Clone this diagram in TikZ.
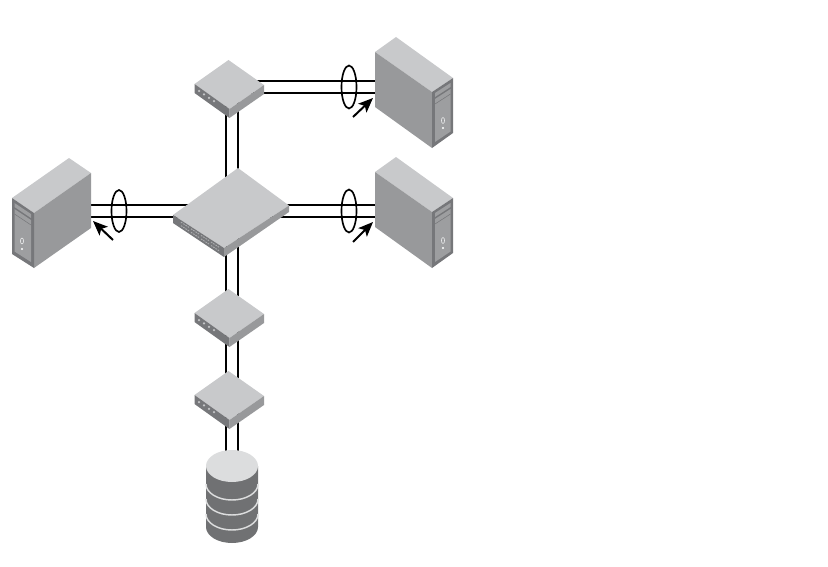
\documentclass[tikz,border=0pt]{standalone}
\usetikzlibrary{arrows.meta}
\definecolor{topc}{HTML}{C8C9CB}
\definecolor{sidec}{HTML}{98999B}
\definecolor{framec}{HTML}{76777A}
\definecolor{panelc}{HTML}{9D9EA0}
\definecolor{dotc}{HTML}{C4C5C7}
\definecolor{portc}{HTML}{ABACAE}
\definecolor{cyltop}{HTML}{DCDDDE}
\definecolor{cylbody}{HTML}{707173}
\tikzset{
  px/.style={x=0.75pt,y=-0.75pt},
  facet/.style={draw=none,line join=round},
  link/.style={draw=black,line width=1.25pt},
  tag/.style={draw=black,line width=1.25pt,fill=none},
  pointer/.style={draw=black,line width=1.5pt,-{Stealth[length=11pt,width=9pt,inset=2.5pt]}},
}
% server tower, right-facing front
\newcommand{\towerR}[3]{%
\begin{scope}[shift={(#2,#3)}]
  \fill[facet,topc] (396,157)--(453,198)--(432,212)--(375,172)--cycle;
  \fill[facet,sidec] (375,172)--(432,212)--(432,268)--(375,227)--cycle;
  \fill[facet,framec] (432,212)--(453,198)--(453,253)--(432,268)--cycle;
  \fill[facet,panelc] (435,213)--(450.5,203)--(450.5,207)--(435,217)--cycle;
  \fill[facet,panelc] (435,219)--(450.5,209)--(450.5,251.5)--(435,262)--cycle;
  \draw[framec,line width=0.4pt] (435,224)--(450.5,214);
  \draw[dotc!40!white,line width=0.45pt] (443,240.5) ellipse (1.6 and 3);
  \fill[white] (443,248) circle (1.1);
  \coordinate (#1) at (375,200);
\end{scope}}
% server tower, left-facing front
\newcommand{\towerL}[1]{%
  \fill[facet,topc] (69,158)--(91,173)--(34,213)--(12,198)--cycle;
  \fill[facet,sidec] (91,173)--(91,228)--(34,268)--(34,213)--cycle;
  \fill[facet,framec] (12,198)--(34,213)--(34,268)--(12,254)--cycle;
  \fill[facet,panelc] (14.5,203)--(31,214)--(31,218)--(14.5,207)--cycle;
  \fill[facet,panelc] (14.5,209)--(31,220)--(31,262)--(14.5,251.5)--cycle;
  \draw[framec,line width=0.4pt] (14.5,214)--(31,225);
  \draw[dotc!40!white,line width=0.45pt] (22,241) ellipse (1.6 and 3);
  \fill[white] (22,249) circle (1.1);
  \coordinate (#1) at (91,211);
}
% small switch
\newcommand{\smallsw}[2]{%
\begin{scope}[shift={(0,#2)}]
  \fill[facet,topc] (228.5,289)--(264,314)--(229.5,338)--(194.5,313)--cycle;
  \fill[facet,framec] (194.5,313)--(229.5,338)--(229.5,347)--(194.5,322)--cycle;
  \fill[facet,sidec] (229.5,338)--(264,314)--(264,323)--(229.5,347)--cycle;
  \foreach \p in {0,1,2,3}
    \fill[dotc] ({199+\p*5},{320+\p*3.4}) circle (1.25);
  \coordinate (#1) at (229,318);
\end{scope}}
\begin{document}
\begin{tikzpicture}[px]
\useasboundingbox (0,0) rectangle (828,567);
% port coordinates
\coordinate (hubN1) at (226,200);
\coordinate (hubN2) at (238,200);
\coordinate (hubS1) at (226,230);
\coordinate (hubS2) at (238,230);
\coordinate (hubW1) at (200,205);
\coordinate (hubW2) at (200,217);
\coordinate (hubE1) at (270,205);
\coordinate (hubE2) at (270,217);
\coordinate (aN1) at (226,90);
\coordinate (aN2) at (238,90);
\coordinate (aE1) at (245,81);
\coordinate (aE2) at (245,93);
\coordinate (bN1) at (226,320);
\coordinate (bN2) at (238,320);
\coordinate (cN1) at (226,400);
\coordinate (cN2) at (238,400);
\coordinate (dN1) at (226,470);
\coordinate (dN2) at (238,470);
\coordinate (srvA1) at (380,81);
\coordinate (srvA2) at (380,93);
\coordinate (srvB1) at (380,205);
\coordinate (srvB2) at (380,217);
\coordinate (srvC1) at (86,205);
\coordinate (srvC2) at (86,217);
% connectors
\path[link] (aE1)--(srvA1) (aE2)--(srvA2);
\path[link] (hubE1)--(srvB1) (hubE2)--(srvB2);
\path[link] (srvC1)--(hubW1) (srvC2)--(hubW2);
\path[link] (aN1)--(hubN1) (aN2)--(hubN2);
\path[link] (hubS1)--(bN1) (hubS2)--(bN2);
\path[link] (bN1)--(cN1) (bN2)--(cN2);
\path[link] (cN1)--(dN1) (cN2)--(dN2);
% devices
\towerR{srvA}{0}{-120}
\towerR{srvB}{0}{0}
\towerL{srvC}
\smallsw{swA}{-229}
\smallsw{swB}{0}
\smallsw{swC}{82}
% hub
\fill[facet,topc] (238,168)--(289,205.5)--(224,248)--(173,215)--cycle;
\fill[facet,framec] (173,215)--(224,248)--(224,257)--(173,223)--cycle;
\fill[facet,sidec] (224,248)--(289,205.5)--(289,212)--(224,257)--cycle;
\foreach \k in {0,...,3}{
  \draw[portc,line width=0.7pt,dash pattern=on 1.2pt off 0.8pt] ({181+\k*10},{222.2+\k*6.6})--++(8,5.2);
  \draw[portc,line width=0.7pt,dash pattern=on 1.2pt off 0.8pt] ({181+\k*10},{225.7+\k*6.6})--++(8,5.2);
}
% storage
\fill[cylbody] (206,466)--(206,527) arc[start angle=180,end angle=0,x radius=26,y radius=16]--(258,466)--cycle;
\foreach \s in {484,499,514}
  \draw[cyltop,line width=1.1pt] (206,\s) arc[start angle=180,end angle=0,x radius=26,y radius=16];
\fill[cyltop] (232,466) ellipse (26 and 16);
\coordinate (storage) at (232,466);
% bundle rings
\coordinate (ringA) at (349,87);
\coordinate (ringB) at (349,211);
\coordinate (ringC) at (119,211);
\draw[tag] (ringA) ellipse (7.5 and 21.5);
\draw[tag] (ringB) ellipse (7.5 and 21.5);
\draw[tag] (ringC) ellipse (7.5 and 21);
% pointers
\coordinate (pA0) at (353,117);
\coordinate (pA1) at (373,98);
\coordinate (pB0) at (353,242);
\coordinate (pB1) at (373,222);
\coordinate (pC0) at (113,240);
\coordinate (pC1) at (93,221);
\draw[pointer] (pA0)--(pA1);
\draw[pointer] (pB0)--(pB1);
\draw[pointer] (pC0)--(pC1);
\end{tikzpicture}
\end{document}
